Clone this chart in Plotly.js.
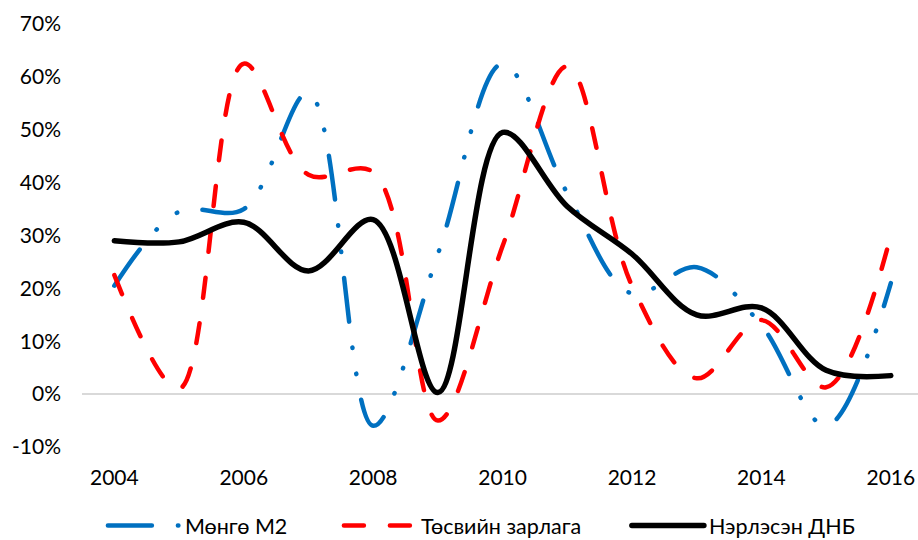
<!DOCTYPE html>
<html>
<head>
<meta charset="utf-8">
<script src="https://cdn.plot.ly/plotly-3.0.1.min.js"></script>
<style>
html,body{margin:0;padding:0;background:#fff;}
#chart{width:918px;height:540px;}
.js-line{stroke-linecap:round;stroke-linejoin:round;}
</style>
</head>
<body>
<div id="chart"></div>
<script>
var years = [2004, 2005, 2006, 2007, 2008, 2009, 2010, 2011, 2012, 2013, 2014, 2015, 2016];
var m2 = [20.5, 34.5, 35, 57, -6, 26.5, 62.5, 38, 19, 24, 13, -6, 21];
var budget = [22.5, 1, 62.5, 41.5, 42, -5, 28, 62, 20.5, 3, 14, 1.3, 30];
var gdp = [29, 28.8, 32.5, 23.3, 33, 0.3, 49.5, 35.5, 26.5, 15, 16.3, 4.5, 3.5];
var names = ["Мөнгө М2", "Төсвийн зарлага", "Нэрлэсэн ДНБ"];
var xTicks = [2004, 2006, 2008, 2010, 2012, 2014, 2016];
var yTicks = [-10, 0, 10, 20, 30, 40, 50, 60, 70];

var FONT = "Lato, 'Open Sans', sans-serif";
var traces = [
  {x: years, y: m2, name: names[0], mode: 'lines', type: 'scatter',
   line: {color: '#0070C0', width: 4.5, shape: 'spline', dash: '44px,26px,0.5px,26px,0.5px,26px'},
   legendwidth: 149},
  {x: years, y: budget, name: names[1], mode: 'lines', type: 'scatter',
   line: {color: '#FF0000', width: 4.5, shape: 'spline', dash: '20px,26px'},
   legendwidth: 201},
  {x: years, y: gdp, name: names[2], mode: 'lines', type: 'scatter',
   line: {color: '#000000', width: 5.5, shape: 'spline'},
   legendwidth: 160}
];

var layout = {
  width: 918, height: 540,
  margin: {l: 82, r: 0, t: 24, b: 93},
  paper_bgcolor: '#fff', plot_bgcolor: '#fff',
  font: {family: FONT, size: 21, color: '#000'},
  showlegend: true,
  legend: {orientation: 'h', x: 0.025, xanchor: 'left', yref: 'container', y: 0.027, yanchor: 'middle',
           itemwidth: 72, font: {family: FONT, size: 21.5, color: '#000'}, bgcolor: 'rgba(0,0,0,0)'},
  xaxis: {range: [2003.5, 2016.42], tickmode: 'array', tickvals: xTicks, ticktext: xTicks.map(String),
          showgrid: false, zeroline: false, showline: false, ticks: '', ticklabelstandoff: 16,
          tickfont: {family: FONT, size: 21, color: '#000'}, fixedrange: true},
  yaxis: {range: [-10, 70], tickmode: 'array', tickvals: yTicks, ticktext: yTicks.map(function(v){return v + '%';}),
          showgrid: false, zeroline: true, zerolinecolor: '#D9D9D9', zerolinewidth: 1.5,
          showline: false, ticks: '', ticklabelstandoff: 20,
          tickfont: {family: FONT, size: 21, color: '#000'}, fixedrange: true}
};

Plotly.newPlot('chart', traces, layout, {displayModeBar: false, staticPlot: true});
</script>
</body>
</html>
